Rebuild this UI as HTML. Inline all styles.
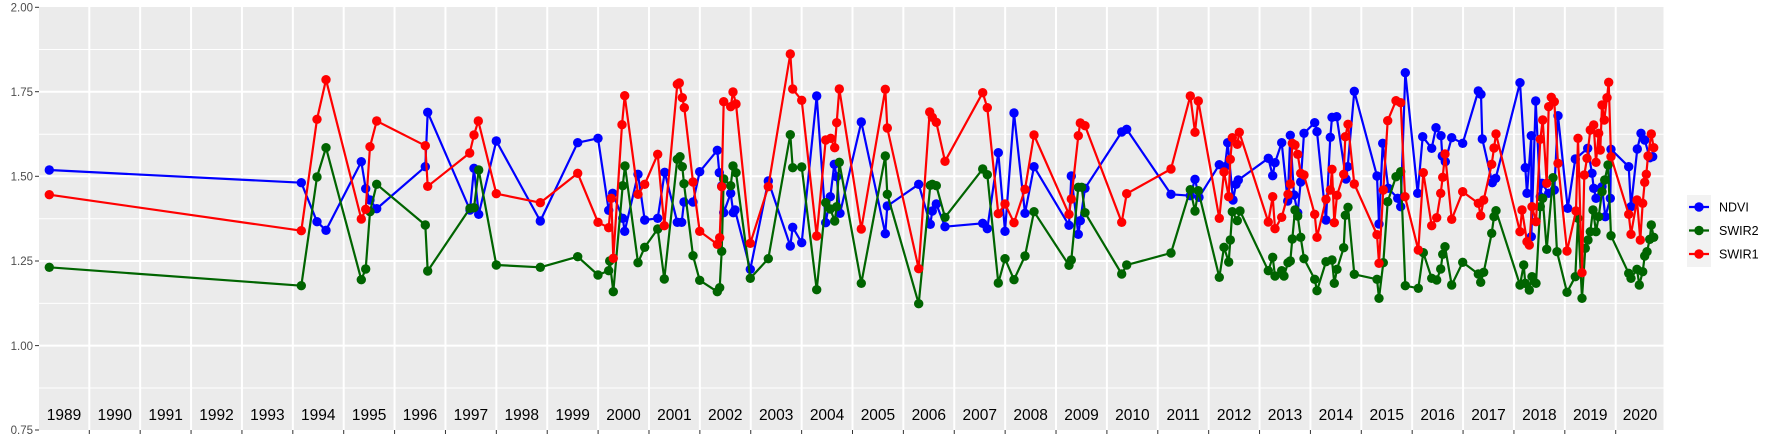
<!DOCTYPE html>
<html><head><meta charset="utf-8"><style>
html,body{margin:0;padding:0;background:#fff}
svg{display:block}
text{font-family:"Liberation Sans",Arial,sans-serif}
</style></head><body>
<svg width="1773" height="442" viewBox="0 0 1773 442" xmlns="http://www.w3.org/2000/svg">
<rect x="39" y="7" width="1624.5" height="423" fill="#ebebeb"/>
<g stroke="#fff" stroke-width="1">
<line x1="39" x2="1663.5" y1="49.5" y2="49.5"/><line x1="39" x2="1663.5" y1="134.2" y2="134.2"/><line x1="39" x2="1663.5" y1="218.8" y2="218.8"/><line x1="39" x2="1663.5" y1="303.4" y2="303.4"/><line x1="39" x2="1663.5" y1="388" y2="388"/>
</g>
<g stroke="#fff" stroke-width="2">
<line x1="39" x2="1663.5" y1="91.7" y2="91.7"/><line x1="39" x2="1663.5" y1="176.3" y2="176.3"/><line x1="39" x2="1663.5" y1="261" y2="261"/><line x1="39" x2="1663.5" y1="345.6" y2="345.6"/>
</g>
<g id="vl" stroke="#fff" stroke-width="2"></g>
<g id="ticks" stroke="#333" stroke-width="1"></g>
<g stroke="#333" stroke-width="1">
<line x1="35" x2="39" y1="7.3" y2="7.3"/><line x1="35" x2="39" y1="91.7" y2="91.7"/><line x1="35" x2="39" y1="176.3" y2="176.3"/><line x1="35" x2="39" y1="261" y2="261"/><line x1="35" x2="39" y1="345.6" y2="345.6"/><line x1="35" x2="39" y1="430" y2="430"/>
</g>
<g font-size="11.5" fill="#4d4d4d" text-anchor="end">
<text x="33" y="11.5">2.00</text><text x="33" y="95.9">1.75</text><text x="33" y="180.5">1.50</text><text x="33" y="265.2">1.25</text><text x="33" y="349.8">1.00</text><text x="33" y="434.2">0.75</text>
</g>
<g id="years" font-size="15.5" fill="#000" text-anchor="middle"></g>
<g id="series"></g>
<rect x="1687" y="195" width="24" height="72" fill="#f2f2f2"/>
<line x1="1689" x2="1709" y1="207" y2="207" stroke="#0000ff" stroke-width="2.2"/><circle cx="1699" cy="207" r="4.7" fill="#0000ff"/>
<line x1="1689" x2="1709" y1="230.5" y2="230.5" stroke="#006400" stroke-width="2.2"/><circle cx="1699" cy="230.5" r="4.7" fill="#006400"/>
<line x1="1689" x2="1709" y1="254" y2="254" stroke="#ff0000" stroke-width="2.2"/><circle cx="1699" cy="254" r="4.7" fill="#ff0000"/>
<g font-size="12.5" fill="#000">
<text x="1719" y="211.5">NDVI</text><text x="1719" y="235">SWIR2</text><text x="1719" y="258.5">SWIR1</text>
</g>
</svg>
<script>
var NS="http://www.w3.org/2000/svg";
function el(p,t,a,txt){var e=document.createElementNS(NS,t);for(var k in a)e.setAttribute(k,a[k]);if(txt)e.textContent=txt;document.getElementById(p).appendChild(e);}
for(var k=0;k<=30;k++){var x=89.3+50.88*k;el("vl","line",{x1:x,x2:x,y1:7,y2:430});el("ticks","line",{x1:x,x2:x,y1:430,y2:434});}
el("years","text",{x:64,y:420},"1989");
for(var k=0;k<30;k++){el("years","text",{x:89.3+50.88*k+25.44,y:420},String(1990+k));}
el("years","text",{x:1640,y:420},"2020");
var B="49.3,170 301.3,182.7 317,221.7 326,230.3 361.3,161.7 365.7,188.7 370,200 376.7,208.7 425.3,166.7 427.7,112.3 470,210 474,168.3 478.7,214.3 496.3,141 540.3,221 577.7,142.7 598,138.3 608.7,210.3 612.7,193.3 622.7,218.3 624.7,231.3 638,174.3 644.7,220 657.7,218.3 664.7,172.3 677.3,222.3 681.7,222.3 684,202 693,202 699.7,171.7 717.3,150.3 719.3,172.7 721.7,186 723.7,212.7 730.7,193.3 733.3,212.7 735,210 750.3,269.3 768.3,181 790.3,246 792.7,227.3 801.7,242.7 816.7,96 825.7,222.7 830.3,196.7 834.3,164.3 836.7,176.7 840,213.3 861.3,122 885.3,233.7 887.3,206 918.7,184.3 930.3,224.3 932.3,211 936.3,204 945,226.7 982.7,223.3 987.3,228.7 998.3,152.7 1005,231.3 1014,113 1025,213.3 1034,166.7 1069,225.3 1071.3,176 1078.3,234.3 1080.3,220.7 1085,188.3 1121.7,132 1126.7,129.3 1171,194.3 1190.3,195.7 1195,179.3 1199,197.3 1219.3,164.7 1225,166.7 1227.7,142.7 1233,200 1236,184.3 1238.3,180 1268.3,158.3 1272.7,175.7 1275,162.7 1281.7,142.7 1287.7,201 1290.3,135.3 1294,195 1297.7,212.7 1300.7,182 1304,133.3 1314.7,122.7 1317,131.7 1326,220 1330.3,137.3 1332,117.3 1336.7,116.7 1346,179 1347.7,166.7 1354.3,91.3 1377,176 1379,224 1382.7,143.3 1388.3,188.3 1397.7,198.3 1400.7,206.7 1405.3,72.7 1417.7,193.3 1422.7,136.7 1431.7,148.3 1436,127.7 1441,135.7 1442.3,156 1445.3,161.7 1451.7,137.7 1462.7,143.3 1478.3,91 1481,94.3 1482.3,139 1492.3,182.7 1495.7,178.3 1520,82.7 1525.3,167.7 1527,193.3 1531.3,135.7 1531.3,236.7 1535.7,101 1540.3,196.7 1542,183.3 1548.7,193.3 1554.3,190 1558,115.7 1567.7,208.3 1575.3,159 1587.7,148.3 1592,173.3 1593.7,188.3 1596,198.3 1602,186.7 1605.3,216.7 1610.3,198.3 1611,149.3 1628.7,166.7 1631,206.7 1637.3,149 1641,133.3 1644.7,140 1649.7,157.7 1652.7,156.7";
var G="49.3,267.3 301.3,285.7 317,177 326,147.7 361.3,279.7 365.7,269 370,211.7 376.7,184.3 425.3,225 427.7,271 470,208.3 474,207.7 478.7,170 496.3,265 540.3,267.3 577.7,256.7 598,275 608.7,270.7 609.7,261 613.3,291.7 622.7,185.7 625,166 638,262.7 644.7,247.3 657.7,229 664.3,279 677.3,159.3 680,156.7 682.3,166.7 684,183.7 693,255.7 699.7,280.3 717.3,291.7 719.7,287.7 721.7,251.3 723.7,179 730.7,185.7 733,166 736,172.7 750.3,278.3 768.3,258.7 790.3,134.7 792.7,167.7 801.7,167 816.7,289.7 825.7,202.7 830.3,209 834.7,221 836.7,206.7 839.3,162.3 861.3,283.3 885.3,156 887.3,194.3 918.7,303.7 930.3,185.3 932.3,184.3 936.3,185.7 945,217.3 982.7,169 987.3,174.7 998.3,283 1005,258.7 1014,279.7 1025,256 1034,211.7 1069,265.3 1071.3,260 1078.3,187.3 1081.7,187.3 1085,212.7 1121.7,274 1126.7,265 1171,253 1190.3,189.7 1195,211 1198.3,190.7 1219.3,277.3 1224,247.3 1228.7,262 1230.3,240 1232.3,211.7 1237.3,220.7 1240,211 1268.3,270.7 1272.7,257.3 1275,276 1281.7,270.7 1284,276 1288,262.7 1290.3,261 1292.3,239 1295,210 1297.7,216 1300.7,237.3 1304,258.7 1314.7,279.3 1317,290.7 1326,261.7 1332,260 1334.3,283.3 1337,269.3 1343.7,247.7 1345.3,215.3 1348,207.3 1354.3,274.3 1377,279.3 1379,298.3 1383.3,262.7 1387.7,201.7 1396,176.7 1400.7,171.7 1405.3,285.7 1418.3,288.3 1423.3,252.7 1431.7,278.3 1436.7,280 1440.7,269 1442.7,254.3 1445,246.7 1451.7,285 1462.7,262.3 1478.3,274 1480.7,282.3 1483.7,272.3 1491.7,233.3 1494,216.7 1496,210.7 1520,285 1523.7,265 1525.3,283.3 1529.3,290 1532,276.7 1536,283.3 1540.3,206.7 1542.7,198.3 1546.7,249.3 1553,177.7 1557,251.7 1567,292.3 1575.3,276.7 1578,218.3 1582,298.3 1585.3,248.3 1588,240 1590.3,231.7 1593,210 1596,231.7 1598.7,216.7 1602,191.7 1604.7,180 1608,165 1611,235.7 1628.7,273.3 1631,278.3 1637,269.3 1639.3,285 1642.7,271.7 1644.7,256 1647,251.7 1649.7,239.3 1651.3,225 1653.7,237.3";
var R="49.3,194.7 301.3,230.7 317,119.3 326,79.7 361.3,219 365.7,209.3 370,146.7 376.7,121 425.3,145.7 427.7,186.3 469.7,153 474,135 478.3,121 496.3,193.7 540.3,202.7 577.7,173.3 598,222.3 608.7,227.7 611.3,198.3 613.3,258.3 622,124.7 624.7,95.7 638,194.3 644.7,184.3 657.7,154.3 664.3,225.7 677.3,84.3 679.3,83 682.3,97.7 684.3,107.7 693,182 699.7,231.3 717.3,244.3 719.7,237.7 721.7,186.7 723.7,101.7 730.7,106.7 733,92 736,104 750.3,243.3 768.3,186.7 790.3,54 792.7,89 801.7,100.3 816.7,236 825.7,140 830.7,138.3 834.7,147.7 836.7,122.7 839.3,89 861.3,229 885.3,89.3 887.3,128 918.7,268.7 929.7,112 932.3,117.3 936.3,122.3 945,161.3 982.7,92.7 987.3,107.7 998.3,213.7 1005,204 1014,222.7 1025,189.3 1034,135 1069,214.3 1071.3,199 1078.3,135.7 1080.3,123 1085,125.7 1121.7,222.3 1126.7,193.7 1171,169 1190.3,96 1195,132.3 1198.3,101 1219.3,218.3 1224,172 1228.7,196.7 1230.3,159.3 1232.3,137.7 1237.3,144.3 1239.3,132.3 1268.3,222 1272.7,196.7 1275,228.7 1281.7,217.3 1288,194.3 1290.3,184 1292.3,143.3 1295,145 1297.7,154.3 1300.7,173.3 1304,175 1314.7,214.3 1317,237.3 1326,199.3 1330.3,190 1332,169.3 1334.3,222.7 1337,195.3 1343.7,174.3 1345.3,136.7 1348,124.3 1354.3,184 1377,234.7 1379,263.3 1383.3,190 1387.7,120.7 1396,100.7 1400.7,102.7 1405,196.7 1418.3,250 1423.3,172.7 1431.7,225.7 1436.7,217.7 1440.7,193.3 1442.7,177.3 1445,154 1451.7,219.3 1462.7,191.7 1478.3,203.3 1480.7,215.7 1483.7,200 1491.7,164.3 1494,148 1496,134 1520,231.7 1522,210 1527,241.7 1529.3,245 1532,206.7 1536,221.7 1540.3,139.3 1542.7,120 1546.7,183.3 1548.7,106.7 1551.3,97.3 1554.3,101.7 1558,163.3 1567,251 1576,211 1578,138.3 1582,272.7 1584.3,175 1587,158.3 1590.3,130 1593.7,125 1596,162.3 1598.7,133.3 1600.3,150 1602,105 1604.3,120 1607,97.7 1608.7,82.3 1611,156.7 1628.7,214.3 1631,234.3 1637,200 1640.3,240 1642.7,203.3 1644.7,182.3 1646.3,174.3 1648,156 1651.3,134 1653.7,147.7";
[[B,"#0000ff"],[G,"#006400"],[R,"#ff0000"]].forEach(function(s){
 el("series","polyline",{points:s[0],fill:"none",stroke:s[1],"stroke-width":2.2,"stroke-linejoin":"round"});
 s[0].split(" ").forEach(function(p){var c=p.split(",");el("series","circle",{cx:c[0],cy:c[1],r:4.7,fill:s[1]});});
});
</script>
</body></html>
